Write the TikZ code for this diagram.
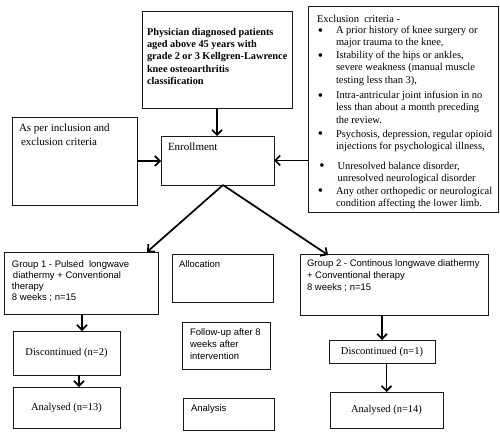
\documentclass[tikz,border=0pt]{standalone}
\usepackage{fontspec}
\setmainfont{Liberation Serif}
\newfontfamily\arialf{Liberation Sans}
\usetikzlibrary{arrows.meta,calc}
\newcommand\bul{\llap{\smash{\raisebox{-1.5pt}{\fontsize{15}{12}\selectfont\textbullet}}\hspace{13pt}}}
\begin{document}
\begin{tikzpicture}[x=1pt,y=-1pt,
  box/.style={draw=black!90, line width=1pt, inner sep=0pt, outer sep=0pt, anchor=north west},
  cbox/.style={draw=black!90, line width=1pt, inner sep=0pt, outer sep=0pt, font=\fontsize{10.5}{12}\selectfont},
  txt/.style={anchor=north west, inner sep=0pt, outer sep=0pt, align=left},
  serif/.style={txt, font=\fontsize{10.5}{12.3}\selectfont},
  big/.style={txt, font=\fontsize{11}{14}\selectfont},
  bold/.style={txt, font=\fontsize{10.3}{12.3}\selectfont\bfseries},
  sans/.style={txt, font=\fontsize{9.5}{11}\selectfont\arialf},
  arr/.style={line width=1.7pt, -{Straight Barb[length=5pt,width=10pt]}}]
\useasboundingbox[fill=white] (0,0) rectangle (500,436);

% boxes
\node[box, minimum width=150pt, minimum height=96pt] (phys) at (142,12) {};
\node[box, minimum width=190pt, minimum height=205pt] (excl) at (308,7) {};
\node[box, minimum width=125pt, minimum height=88pt] (incl) at (12,117) {};
\node[box, minimum width=113pt, minimum height=49pt] (enroll) at (161,136) {};
\node[box, minimum width=154pt, minimum height=62pt] (group1) at (4,252) {};
\node[box, minimum width=101pt, minimum height=48pt] (alloc) at (172,254) {};
\node[box, minimum width=188pt, minimum height=61pt] (group2) at (300,254) {};
\node[box, minimum width=88pt, minimum height=47pt] (follow) at (182,322) {};
\node[box, minimum width=91pt, minimum height=32pt] (analysis) at (183,398) {};
\node[cbox, minimum width=107pt, minimum height=44pt] (disc2) at (66.5,353) {Discontinued (n=2)};
\node[cbox, minimum width=106pt, minimum height=23pt] (disc1) at (382,351.5) {Discontinued (n=1)};
\node[cbox, minimum width=107pt, minimum height=41pt] (an13) at (66.5,407.5) {Analysed (n=13)};
\node[cbox, minimum width=113pt, minimum height=36pt] (an14) at (386.5,410) {Analysed (n=14)};

% texts
\node[bold] (tphys) at (147,28) {Physician diagnosed patients\\aged above 45 years with\\grade 2 or 3 Kellgren-Lawrence\\knee osteoarthritis\\classification};
\node[serif] (texcl) at (317,15) {Exclusion\ \ criteria -};
\node[serif] (e1) at (336,26.2) {\bul A prior history of knee surgery or\\major trauma to the knee,};
\node[serif] (e2) at (336,51.2) {\bul Istability of the hips or ankles,\\severe weakness (manual muscle\\testing less than 3),};
\node[serif] (e3) at (336,91.2) {\bul Intra-antricular joint infusion in no\\less than about a month preceding\\the review.};
\node[serif] (e4) at (336,130.2) {\bul Psychosis, depression, regular opioid\\injections for psychological illness,};
\node[serif] (e5) at (337.5,162.2) {\bul Unresolved balance disorder,\\unresolved neurological disorder};
\node[serif] (e6) at (336,187.2) {\bul Any other orthopedic or neurological\\condition affecting the lower limb.};
\node[big] (tincl) at (19,124) {As per inclusion and\\\hspace{2pt}exclusion criteria};
\node[big] (tenroll) at (168,143) {Enrollment};
\node[sans] (tg1) at (12,260.6) {Group 1 - Pulsed\ \ longwave\\\hspace{1pt}diathermy + Conventional\\therapy\\8 weeks ; n=15};
\node[sans] (talloc) at (179,260.6) {Allocation};
\node[sans, font=\fontsize{9.5}{12}\selectfont\arialf] (tg2) at (307,259.6) {Group 2 - Continous longwave diathermy\\+ Conventional therapy\\8 weeks ; n=15};
\node[sans, font=\fontsize{9.5}{12}\selectfont\arialf] (tfollow) at (190,328.6) {Follow-up after 8\\weeks after\\intervention};
\node[sans] (tanal) at (191,404.6) {Analysis};

% connectors
\coordinate (split) at ([xshift=5.5pt]enroll.south);
\coordinate (g1tip) at ([xshift=-11pt]group1.north east);
\coordinate (g2tip) at ([xshift=28pt,yshift=-1pt]group2.north west);
\draw[arr] (phys.south) -- (phys.south |- enroll.north);
\draw[arr] (incl.east) -- (incl.east -| enroll.west);
\draw[arr] (enroll.east -| excl.west) -- (enroll.east);
\draw[arr] (split) -- (g1tip);
\draw[arr] (split) -- (g2tip);
\draw[arr] ([xshift=15.5pt]disc2.north |- group1.south) -- ([xshift=15.5pt]disc2.north);
\draw[arr] ([xshift=12.5pt]disc2.south) -- ([xshift=12.5pt]disc2.south |- an13.north);
\draw[arr] (disc1.north |- group2.south) -- (disc1.north);
\draw[arr] (an14.north |- disc1.south) -- (an14.north);
\end{tikzpicture}
\end{document}
